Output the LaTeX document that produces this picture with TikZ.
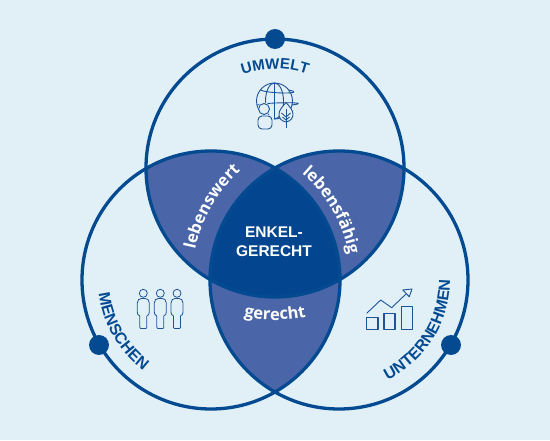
\documentclass[tikz,border=0pt]{standalone}
\usepackage{fontspec}
\setmainfont{Liberation Sans}
\newfontfamily\lensfam{Open Sans}
\usetikzlibrary{decorations.text}
\definecolor{bgc}{HTML}{E1F0F7}
\definecolor{lens}{HTML}{4A66A8}
\definecolor{core}{HTML}{03468F}
\definecolor{ring}{HTML}{034A91}
\definecolor{icon}{HTML}{1D5496}
\newcommand{\labfont}{\fontsize{15}{15}\selectfont\bfseries}
\newcommand{\biglabfont}{\fontsize{16}{16}\selectfont\bfseries}
\newcommand{\lensfont}{\lensfam\fontsize{16.5}{16.5}\selectfont\bfseries}
\tikzset{
  ringline/.style={draw=ring,line width=3.3pt},
  icoline/.style={draw=icon,line width=0.9pt,line join=round},
  dot/.style={circle,fill=ring,minimum size=20pt,inner sep=0pt},
  arclabel/.style={decorate,decoration={text along path,text align=center,text color=#1}},
  arclabel/.default=ring
}
\begin{document}
\begin{tikzpicture}[x=1pt,y=1pt]
\useasboundingbox (0,0) rectangle (550,440);
\fill[bgc] (0,0) rectangle (550,440);
\coordinate (T) at (275,272);
\coordinate (L) at (211,160);
\coordinate (R) at (339,160);
\def\rad{129pt}
% lenses
\begin{scope}\clip (T) circle (\rad); \clip (L) circle (\rad); \fill[lens] (0,0) rectangle (550,440);\end{scope}
\begin{scope}\clip (T) circle (\rad); \clip (R) circle (\rad); \fill[lens] (0,0) rectangle (550,440);\end{scope}
\begin{scope}\clip (L) circle (\rad); \clip (R) circle (\rad); \fill[lens] (0,0) rectangle (550,440);\end{scope}
\begin{scope}\clip (T) circle (\rad); \clip (L) circle (\rad); \clip (R) circle (\rad); \fill[core] (0,0) rectangle (550,440);\end{scope}
% circles
\draw[ringline] (T) circle (\rad);
\draw[ringline] (L) circle (\rad);
\draw[ringline] (R) circle (\rad);
% dots
\node[dot] (dt) at (275,401) {};
\node[dot] (dl) at (99,95) {};
\node[dot] (dr) at (451,95) {};
% outer labels
\path[arclabel] (T) ++(140:99pt) arc[start angle=140,end angle=40,radius=99pt]
  [decoration={text={|\labfont\color{ring}|UMWELT}}];
\path[arclabel] (L) ++(160:113pt) arc[start angle=160,end angle=260,radius=113pt]
  [decoration={text={|\biglabfont\color{ring}|MENSCHEN}}];
\path[arclabel] (R) ++(-92:111pt) arc[start angle=-92,end angle=28,radius=111pt]
  [decoration={text={|\biglabfont\color{ring}|UNTERNEHMEN}}];
% lens labels
\path[arclabel] (R) ++(180:147pt) arc[start angle=180,end angle=120,radius=147pt]
  [decoration={text={|\lensfont\color{white}|lebenswert}}];
\path[arclabel] (L) ++(60:140pt) arc[start angle=60,end angle=0,radius=140pt]
  [decoration={text={|\lensfont\color{white}|lebensfähig}}];
\path[arclabel] (T) ++(250:152pt) arc[start angle=250,end angle=290,radius=152pt]
  [decoration={text={|\lensfont\color{white}|gerecht}}];
\node[text=white,font=\fontsize{15.5}{19}\selectfont\bfseries,align=center,inner sep=0pt] (core) at (274,198) {ENKEL-\\GERECHT};
% globe icon
\coordinate (G) at (274.5,339);
\draw[icoline] (G) circle (18pt);
\draw[icoline] (G) ellipse (9pt and 18pt);
\draw[icoline] (274.5,357) -- (274.5,321);
\draw[icoline] (G) ++(-14,11) .. controls +(8,-4) and +(20,-4) .. +(28,0);
\draw[icoline] (G) ++(-17,-4) .. controls +(8,3) and +(26,3) .. +(34,0);
% person on globe
\fill[bgc] (264,331) circle (6.5pt);
\fill[bgc,rounded corners=4pt] (256,309) rectangle (274,325);
\draw[icoline] (264,331) circle (5.5pt);
\draw[icoline,rounded corners=4pt] (258,311) rectangle (272,324);
% tree on globe
\path[fill=bgc,draw=icon,line width=0.9pt] (286,318) .. controls (281,319) and (279,322) .. (279,326) .. controls (279,330) and (283,334) .. (286,337.5) .. controls (289,334) and (293,330) .. (293,326) .. controls (293,322) and (291,319) .. (286,318) -- cycle;
\draw[icoline] (286,331) -- (286,312);
\draw[icoline] (281.5,327) -- (286,323) -- (290.5,327);
\draw[icoline] (282.5,323) -- (286,320) -- (289.5,323);
% people icon
\foreach \px/\nm in {143.3/pa,160.3/pb,177/pc}{
  \begin{scope}[shift={(\px,0)}]
    \draw[icoline,line width=0.8pt] (0,146.7) circle (4pt);
    \draw[icoline,line width=0.8pt] (-2.5,111.5) .. controls (-3.5,111.5) and (-3.5,112.5) .. (-3.5,114) -- (-3.5,124) .. controls (-5.5,125) and (-6,126) .. (-6,128) -- (-6,137) .. controls (-6,140) and (-4,141.5) .. (-2,141.5) -- (2,141.5) .. controls (4,141.5) and (6,140) .. (6,137) -- (6,128) .. controls (6,126) and (5.5,125) .. (3.5,124) -- (3.5,114) .. controls (3.5,112.5) and (3.5,111.5) .. (2.5,111.5) -- cycle;
  \end{scope}
}
% chart icon
\draw[icoline,line width=1.1pt] (366.7,110.7) rectangle (378,122.3);
\draw[icoline,line width=1.1pt] (384,110.7) rectangle (395,126.7);
\draw[icoline,line width=1.1pt] (401.3,110.7) rectangle (412.7,133.3);
\draw[icoline] (366.7,126.7) -- (380.7,140) -- (391.7,132.3) -- (406,146);
\draw[icoline] (402.7,150) -- (412,151) -- (409.3,143.3) -- cycle;
\end{tikzpicture}
\end{document}
